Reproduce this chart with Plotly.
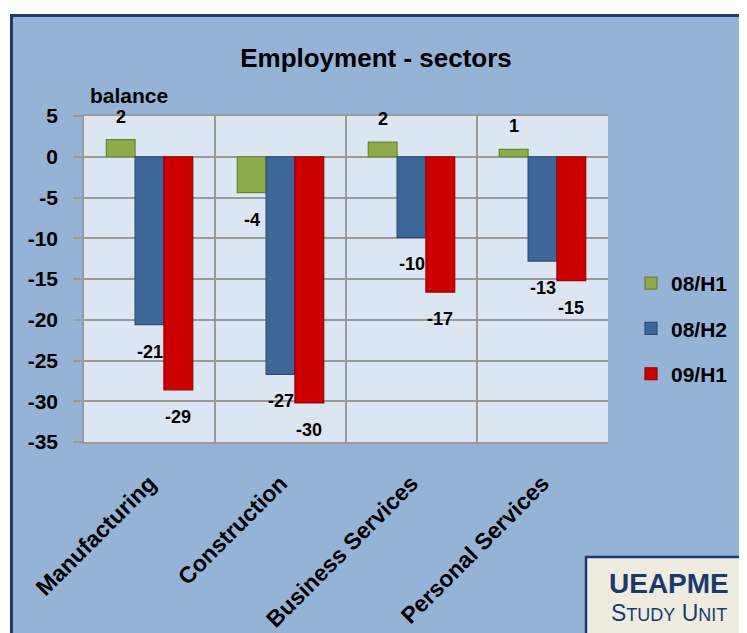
import plotly.graph_objects as go

categories = ["Manufacturing", "Construction", "Business Services", "Personal Services"]
series_names = ["08/H1", "08/H2", "09/H1"]
h1_08 = [2.1, -4.4, 1.8, 0.9]
h2_08 = [-20.6, -26.7, -9.9, -12.8]
h1_09 = [-28.6, -30.2, -16.6, -15.2]
y_ticks = [5, 0, -5, -10, -15, -20, -25, -30, -35]

series_values = [h1_08, h2_08, h1_09]
fill_colors = ["#8FAA4B", "#3D6799", "#CC0000"]
edge_colors = ["#6B8530", "#2A4D78", "#9A0000"]

OFF = 8  # page body margin
PAGE_W, PAGE_H = 747, 633
W, H = PAGE_W - OFF, PAGE_H - OFF
# plot area in page pixels: x 84-608, y 116-442
L, T = 84 - OFF, 116 - OFF
R, B = W - (608 - OFF), H - (442 - OFF)
PW, PH = W - L - R, H - T - B


def px(x_page):
    return (x_page - OFF - L) / PW


def py(y_page):
    return (H - B - (y_page - OFF)) / PH


FONT = "Liberation Sans, Arial, sans-serif"

fig = go.Figure()
for i, (name, vals) in enumerate(zip(series_names, series_values)):
    fig.add_trace(go.Bar(
        x=categories, y=vals, name=name, legendgroup=name,
        marker=dict(color=fill_colors[i], line=dict(color=edge_colors[i], width=1.2)),
    ))

annotations = []
bar_px = PW / len(categories) * (1 - 0.34) / 3
for i, vals in enumerate(series_values):
    for c, v in zip(categories, vals):
        annotations.append(dict(
            x=c, y=v, xref="x", yref="y", text="%d" % round(v),
            showarrow=False, xanchor="center", yanchor="middle",
            xshift=(i - 1) * bar_px, yshift=23 if v > 0 else -27,
            font=dict(family=FONT, size=18, color="black", weight="bold"),
        ))

annotations.append(dict(
    x=px(88), y=py(96), xref="paper", yref="paper", text="balance",
    showarrow=False, xanchor="left", yanchor="middle",
    font=dict(family=FONT, size=21, color="black", weight="bold"),
))
annotations.append(dict(
    x=px(669), y=py(583), xref="paper", yref="paper", text="UEAPME",
    showarrow=False, xanchor="center", yanchor="middle",
    font=dict(family=FONT, size=28, color="#1B3A6B", weight="bold"),
))
annotations.append(dict(
    x=px(669), y=py(613), xref="paper", yref="paper",
    text="S<span style='font-size:18px'>TUDY</span> U<span style='font-size:18px'>NIT</span>",
    showarrow=False, xanchor="center", yanchor="middle",
    font=dict(family=FONT, size=23, color="#1B3A6B"),
))

shapes = [
    # white outer margin
    dict(type="rect", xref="paper", yref="paper", x0=px(-20), x1=px(PAGE_W + 20), y0=py(-20), y1=py(14),
         fillcolor="white", line=dict(width=0), layer="below"),
    dict(type="rect", xref="paper", yref="paper", x0=px(-20), x1=px(10), y0=py(-20), y1=py(PAGE_H + 20),
         fillcolor="white", line=dict(width=0), layer="below"),
    # navy frame
    dict(type="rect", xref="paper", yref="paper", x0=px(11.5), x1=px(PAGE_W + 30), y0=py(15.5), y1=py(PAGE_H + 30),
         fillcolor="rgba(0,0,0,0)", line=dict(color="#1F3A70", width=3), layer="below"),
    # logo box
    dict(type="rect", xref="paper", yref="paper", x0=px(586), x1=px(PAGE_W + 30), y0=py(557), y1=py(PAGE_H + 30),
         fillcolor="#EEECE1", line=dict(color="#1F3A70", width=2.5), layer="above"),
]

fig.update_layout(
    width=W, height=H,
    margin=dict(l=L, r=R, t=T, b=B, pad=0, autoexpand=False),
    paper_bgcolor="#95B3D7",
    plot_bgcolor="#DCE6F2",
    barmode="group", bargap=0.34, bargroupgap=0,
    title=dict(text="Employment - sectors", x=(376 - OFF) / W, y=1 - (58 - OFF) / H,
               xanchor="center", yanchor="middle",
               font=dict(family=FONT, size=26, color="black", weight="bold")),
    legend=dict(x=px(631), y=py(263), xanchor="left", yanchor="top",
                bgcolor="rgba(0,0,0,0)", tracegroupgap=15,
                font=dict(family=FONT, size=21, color="black", weight="bold")),
    xaxis=dict(
        type="category", tickson="boundaries", showgrid=True, gridcolor="#9A9A9A", gridwidth=1.5,
        ticks="", tickangle=-45, ticklabelstandoff=17, automargin=False,
        tickfont=dict(family=FONT, size=23, color="black", weight="bold"),
        showline=True, linecolor="#9A9A9A", linewidth=1.5, mirror=True,
        zeroline=False,
    ),
    yaxis=dict(
        range=[-35, 5], tickvals=y_ticks, ticktext=[str(v) for v in y_ticks],
        showgrid=True, gridcolor="#9A9A9A", gridwidth=1.5, automargin=False,
        ticks="outside", ticklen=9, tickcolor="#9A9A9A", tickwidth=1.5, ticklabelstandoff=11,
        tickfont=dict(family=FONT, size=21, color="black", weight="bold"),
        showline=True, linecolor="#9A9A9A", linewidth=1.5,
        zeroline=False,
    ),
    annotations=annotations,
    shapes=shapes,
    showlegend=True,
)

fig.write_html("out.html")
